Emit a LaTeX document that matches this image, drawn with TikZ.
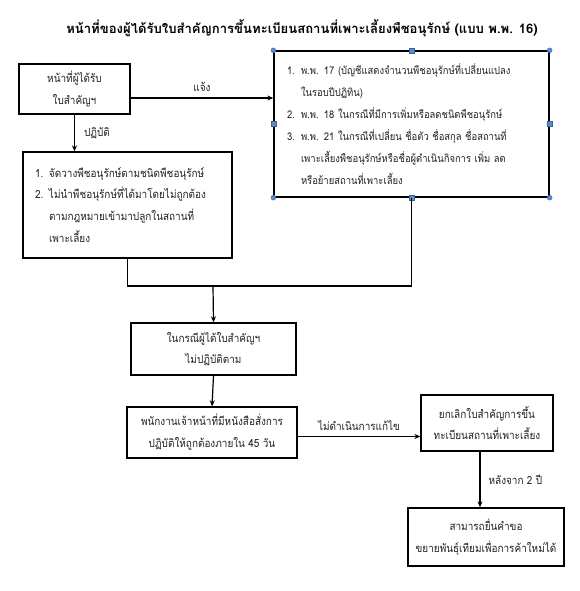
\documentclass[tikz,border=0pt]{standalone}
\usepackage{fontspec}
\usetikzlibrary{arrows.meta,positioning}
\newfontfamily\thai[Script=Thai,FakeStretch=0.89]{Loma}
\newfontfamily\thaititle[Script=Thai]{Loma}
\definecolor{handle}{HTML}{5B8BD0}
\definecolor{ink}{HTML}{222222}
\tikzset{
  box/.style={draw=black, line width=1.3pt, fill=white, inner sep=0pt, text=ink, font=\thai\fontsize{11.2}{21.8}\selectfont, align=center},
  lbox/.style={box, align=left, inner xsep=12pt},
  conn/.style={line width=1.2pt, draw=black},
  arr/.style={conn, -{Stealth[length=6pt,width=5pt]}},
  lbl/.style={font=\thai\fontsize{11.2}{12}\selectfont, text=ink, inner sep=0pt},
  hcirc/.style={circle, fill=handle, draw=handle!70!black, line width=0.3pt, minimum size=5pt, inner sep=0pt},
  hsq/.style={rectangle, fill=handle, draw=handle!70!black, line width=0.3pt, minimum size=5pt, inner sep=0pt},
}
\newcommand{\itm}[2]{\makebox[14pt][l]{#1}#2}
\newcommand{\cnt}[1]{\hspace*{14pt}#1}
\begin{document}
\begin{tikzpicture}[x=1pt,y=-1pt]
\useasboundingbox[fill=white] (0,0) rectangle (580,591);
% title
\node[font=\thaititle\bfseries\fontsize{13.1}{15}\selectfont, inner sep=0pt] (title) at (302,28) {หน้าที่ของผู้ได้รับใบสำคัญการขึ้นทะเบียนสถานที่เพาะเลี้ยงพืชอนุรักษ์ (แบบ พ.พ. 16)};
% boxes
\node[box, minimum width=111pt, minimum height=50pt] (b1) at (74.5,89) {หน้าที่ผู้ได้รับ\\ใบสำคัญฯ};
\node[lbox, text width=185pt, minimum width=209pt, minimum height=106pt] (b2) at (127.5,205) {%
\itm{1.}{จัดวางพืชอนุรักษ์ตามชนิดพืชอนุรักษ์}\\
\itm{2.}{ไม่นำพืชอนุรักษ์ที่ได้มาโดยไม่ถูกต้อง}\\
\cnt{ตามกฎหมายเข้ามาปลูกในสถานที่}\\
\cnt{เพาะเลี้ยง}};
\node[lbox, inner xsep=13pt, text width=249pt, minimum width=275pt, minimum height=146pt, font=\thai\fontsize{10.6}{22}\selectfont] (b3) at (411.5,124) {%
\itm{1.}{พ.พ. 17 (บัญชีแสดงจำนวนพืชอนุรักษ์ที่เปลี่ยนแปลง}\\
\cnt{ในรอบปีปฏิทิน)}\\
\itm{2.}{พ.พ. 18 ในกรณีที่มีการเพิ่มหรือลดชนิดพืชอนุรักษ์}\\
\itm{3.}{พ.พ. 21 ในกรณีที่เปลี่ยน ชื่อตัว ชื่อสกุล ชื่อสถานที่}\\
\cnt{เพาะเลี้ยงพืชอนุรักษ์หรือชื่อผู้ดำเนินกิจการ เพิ่ม ลด}\\
\cnt{หรือย้ายสถานที่เพาะเลี้ยง}};
\node[box, minimum width=165pt, minimum height=52pt] (b4) at (213.5,349) {ในกรณีผู้ได้ใบสำคัญฯ\\ไม่ปฏิบัติตาม};
\node[box, minimum width=170pt, minimum height=51pt] (b5) at (212,432.5) {พนักงานเจ้าหน้าที่มีหนังสือสั่งการ\\ปฏิบัติให้ถูกต้องภายใน 45 วัน};
\node[box, minimum width=132pt, minimum height=56pt] (b6) at (487,423) {ยกเลิกใบสำคัญการขึ้น\\ทะเบียนสถานที่เพาะเลี้ยง};
\node[box, minimum width=156pt, minimum height=58pt] (b7) at (486,537) {สามารถยื่นคำขอ\\ขยายพันธุ์เทียมเพื่อการค้าใหม่ได้};
% handles on b3
\foreach \a in {north west,north east,south west,south east} \node[hcirc] at (b3.\a) {};
\foreach \a in {north,south,west,east} \node[hsq] at (b3.\a) {};
% connectors
\coordinate (s1) at ([yshift=-9pt]b1.east);
\draw[arr] (s1) -- (b3.west |- s1) node[lbl, midway, above=6pt] {แจ้ง};
\draw[arr] (b1.south) -- (b1.south |- b2.north) node[lbl, midway, right=9pt] {ปฏิบัติ};
\coordinate (m) at (213,286);
\draw[conn] (b2.south) |- (m) -| (b3.south);
\draw[arr] (m) -- (b4.north);
\draw[arr] (b4.south) -- (b5.north);
\coordinate (s5) at ([yshift=-4pt]b5.east);
\draw[arr] (s5) -- (b6.west |- s5) node[lbl, midway, above=5pt] {ไม่ดำเนินการแก้ไข};
\coordinate (s6) at ([xshift=-7pt]b6.south);
\draw[arr] (s6) -- (s6 |- b7.north) node[lbl, midway, right=8pt] {หลังจาก 2 ปี};
\end{tikzpicture}
\end{document}
